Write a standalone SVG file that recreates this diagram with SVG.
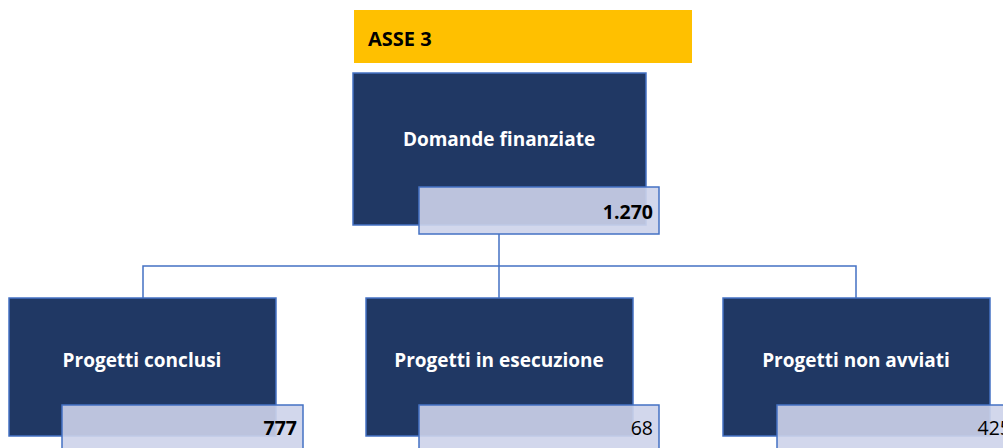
<svg xmlns="http://www.w3.org/2000/svg" width="1003" height="448" viewBox="0 0 1003 448">
<style>
.box{fill:#203864;stroke:#4472C4;stroke-width:1.5}
.val{fill:#CDD3EA;fill-opacity:0.9;stroke:#4472C4;stroke-width:1.5}
.lbl{font-family:"Open Sans","Liberation Sans",sans-serif;font-weight:bold;font-size:19px;fill:#FFFFFF;text-anchor:middle}
.num{font-family:"Open Sans","Liberation Sans",sans-serif;font-size:19.5px;fill:#000000;text-anchor:end}
.conn{stroke:#4472C4;stroke-width:1.5;fill:none}
</style>
<rect width="1003" height="448" fill="#FFFFFF"/>
<g id="header">
<rect x="354" y="10" width="338" height="53" fill="#FFC000"/>
<text x="368" y="46" font-family="'Open Sans','Liberation Sans',sans-serif" font-weight="bold" font-size="20" fill="#000000">ASSE 3</text>
</g>
<g id="connectors">
<path class="conn" d="M499 234 V266 M143 298 V266 H856 V298 M499 266 V298"/>
</g>
<g id="node-domande">
<rect class="box" x="353" y="73" width="293" height="152"/>
<text class="lbl" x="499" y="146">Domande finanziate</text>
<rect class="val" x="419" y="187" width="240" height="47"/>
<text class="num" x="653" y="219" font-weight="bold">1.270</text>
</g>
<g id="node-conclusi">
<rect class="box" x="9" y="298" width="267" height="138"/>
<text class="lbl" x="142" y="367">Progetti conclusi</text>
<rect class="val" x="62" y="405" width="241" height="50"/>
<text class="num" x="297" y="435" font-weight="bold">777</text>
</g>
<g id="node-esecuzione">
<rect class="box" x="366" y="298" width="267" height="138"/>
<text class="lbl" x="499" y="367">Progetti in esecuzione</text>
<rect class="val" x="419" y="405" width="240" height="50"/>
<text class="num" x="653" y="435">68</text>
</g>
<g id="node-nonavviati">
<rect class="box" x="723" y="298" width="267" height="138"/>
<text class="lbl" x="856" y="367">Progetti non avviati</text>
<rect class="val" x="777" y="405" width="240" height="50"/>
<text class="num" x="1011" y="435">425</text>
</g>
</svg>
